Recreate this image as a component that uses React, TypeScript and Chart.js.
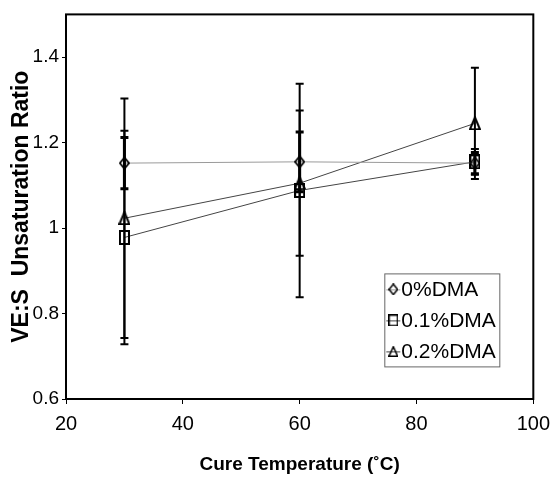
import React, { useEffect, useRef } from 'react';
import { Chart, registerables } from 'chart.js';

Chart.register(...registerables);

// ---- data ----
const temperatures = [30, 60, 90];
const seriesLabels = ['0%DMA', '0.1%DMA', '0.2%DMA'];
const dma0 = [1.152, 1.155, 1.152];
const dma0Err = [0.06, 0.07, 0.025];
const dma01 = [0.978, 1.088, 1.155];
const dma01Err = [0.25, 0.25, 0.03];
const dma02 = [1.023, 1.105, 1.245];
const dma02Err = [0.28, 0.17, 0.13];
const xTicks = [20, 40, 60, 80, 100];
const yTicks = [0.6, 0.8, 1, 1.2, 1.4];

const FONT = "'Liberation Sans', Arial, sans-serif";

function makeMarker(shape: string, w: number, h: number, lw: number): HTMLCanvasElement {
  const c = document.createElement('canvas');
  c.width = w;
  c.height = h;
  const ctx = c.getContext('2d') as CanvasRenderingContext2D;
  ctx.strokeStyle = '#000';
  ctx.lineWidth = lw;
  ctx.lineJoin = 'miter';
  const p = lw / 2;
  ctx.beginPath();
  if (shape === 'diamond') {
    ctx.moveTo(w / 2, p);
    ctx.lineTo(w - p, h / 2);
    ctx.lineTo(w / 2, h - p);
    ctx.lineTo(p, h / 2);
    ctx.closePath();
  } else if (shape === 'square') {
    ctx.rect(p, p, w - 2 * p, h - 2 * p);
  } else {
    ctx.moveTo(w / 2, p);
    ctx.lineTo(w - p, h - p);
    ctx.lineTo(p, h - p);
    ctx.closePath();
  }
  ctx.stroke();
  return c;
}

export default function App() {
  const ref = useRef<HTMLCanvasElement | null>(null);

  useEffect(() => {
    document.body.style.margin = '0';
    const canvas = ref.current;
    if (!canvas) return;

    const markers = [
      makeMarker('diamond', 11, 13, 1.8),
      makeMarker('square', 11, 15, 2),
      makeMarker('triangle', 12, 14, 2),
    ];
    const legendMarkers = [
      makeMarker('diamond', 10, 12, 1.5),
      makeMarker('square', 10, 12, 1.5),
      makeMarker('triangle', 10, 11, 1.5),
    ];
    const errs = [dma0Err, dma01Err, dma02Err];
    const errWidths = [3, 2, 2];
    const lineColors = ['#9a9a9a', '#444', '#444'];

    const errorBars = {
      id: 'errorBars',
      afterDatasetsDraw(chart: any) {
        const { ctx, scales } = chart;
        const xs = scales.x;
        const ys = scales.y;
        ctx.save();
        ctx.strokeStyle = '#000';
        chart.data.datasets.forEach((ds: any, i: number) => {
          const e = errs[i];
          ds.data.forEach((pt: any, j: number) => {
            const px = xs.getPixelForValue(pt.x);
            const yTop = ys.getPixelForValue(pt.y + e[j]);
            const yBot = ys.getPixelForValue(pt.y - e[j]);
            ctx.lineWidth = errWidths[i];
            ctx.beginPath();
            ctx.moveTo(px, yTop);
            ctx.lineTo(px, yBot);
            ctx.stroke();
            ctx.beginPath();
            ctx.moveTo(px - 4, yTop);
            ctx.lineTo(px + 4, yTop);
            ctx.moveTo(px - 4, yBot);
            ctx.lineTo(px + 4, yBot);
            ctx.stroke();
          });
        });
        ctx.restore();
      },
    };

    const frame = {
      id: 'frame',
      afterDraw(chart: any) {
        const { ctx, chartArea } = chart;
        ctx.save();
        ctx.strokeStyle = '#000';
        ctx.lineWidth = 2;
        ctx.strokeRect(chartArea.left, chartArea.top, chartArea.right - chartArea.left, chartArea.bottom - chartArea.top);
        ctx.restore();
      },
    };

    const legend = {
      id: 'boxLegend',
      afterDraw(chart: any) {
        const { ctx, chartArea } = chart;
        const bx = chartArea.right - 149;
        const by = chartArea.top + 259;
        const bw = 115;
        const bh = 93;
        ctx.save();
        ctx.fillStyle = '#fff';
        ctx.fillRect(bx, by, bw, bh);
        ctx.strokeStyle = '#666';
        ctx.lineWidth = 1;
        ctx.strokeRect(bx + 0.5, by + 0.5, bw, bh);
        chart.data.datasets.forEach((ds: any, i: number) => {
          const cy = by + 16 + i * 31;
          const mx = bx + 9;
          ctx.strokeStyle = lineColors[i];
          ctx.lineWidth = 1;
          ctx.beginPath();
          ctx.moveTo(mx - 7, cy + 0.5);
          ctx.lineTo(mx + 7, cy + 0.5);
          ctx.stroke();
          const m = legendMarkers[i];
          ctx.drawImage(m, mx - m.width / 2, cy - m.height / 2);
          ctx.fillStyle = '#000';
          ctx.font = `21px ${FONT}`;
          ctx.textBaseline = 'middle';
          ctx.textAlign = 'left';
          ctx.fillText(ds.label, bx + 17, cy + 1);
        });
        ctx.restore();
      },
    };

    const series = [dma0, dma01, dma02];
    const chart = new Chart(canvas, {
      type: 'scatter',
      data: {
        datasets: series.map((vals, i) => ({
          label: seriesLabels[i],
          data: temperatures.map((t, j) => ({ x: t, y: vals[j] })),
          showLine: true,
          borderColor: lineColors[i],
          borderWidth: 1,
          pointStyle: markers[i] as any,
          pointRadius: 6,
          backgroundColor: 'rgba(0,0,0,0)',
          fill: false,
        })),
      },
      options: {
        animation: false,
        responsive: false,
        layout: { padding: { top: 14, right: 20, left: 0, bottom: 0 } },
        plugins: {
          legend: { display: false },
          tooltip: { enabled: false },
        },
        scales: {
          x: {
            type: 'linear',
            min: 20,
            max: 100,
            afterBuildTicks: (axis: any) => {
              axis.ticks = xTicks.map((v) => ({ value: v }));
            },
            afterFit: (scale: any) => {
              scale.height = 82;
            },
            grid: { drawOnChartArea: false, drawTicks: true, tickLength: 5, color: '#000', lineWidth: 1 },
            border: { display: false },
            ticks: {
              color: '#000',
              font: { family: FONT, size: 20 },
              padding: 8,
              maxRotation: 0,
              callback: (v: any) => String(v),
            },
            title: {
              display: true,
              text: 'Cure Temperature (˚C)',
              color: '#000',
              font: { family: FONT, size: 19, weight: 'bold' },
              padding: { top: 0, bottom: 5 },
            },
          },
          y: {
            type: 'linear',
            min: 0.6,
            max: 1.5,
            afterBuildTicks: (axis: any) => {
              axis.ticks = yTicks.map((v) => ({ value: v }));
            },
            afterFit: (scale: any) => {
              scale.width = 66;
            },
            grid: { drawOnChartArea: false, drawTicks: true, tickLength: 4, color: '#000', lineWidth: 1 },
            border: { display: false },
            ticks: {
              color: '#000',
              font: { family: FONT, size: 19 },
              padding: 3,
              callback: (v: any) => String(v),
            },
            title: {
              display: true,
              text: 'VE:S  Unsaturation Ratio',
              color: '#000',
              font: { family: FONT, size: 23, weight: 'bold' },
              padding: { top: 8, bottom: 0 },
            },
          },
        },
      },
      plugins: [errorBars, frame, legend],
    });

    return () => {
      chart.destroy();
    };
  }, []);

  return <canvas ref={ref} width={558} height={481} style={{ display: 'block' }} />;
}
